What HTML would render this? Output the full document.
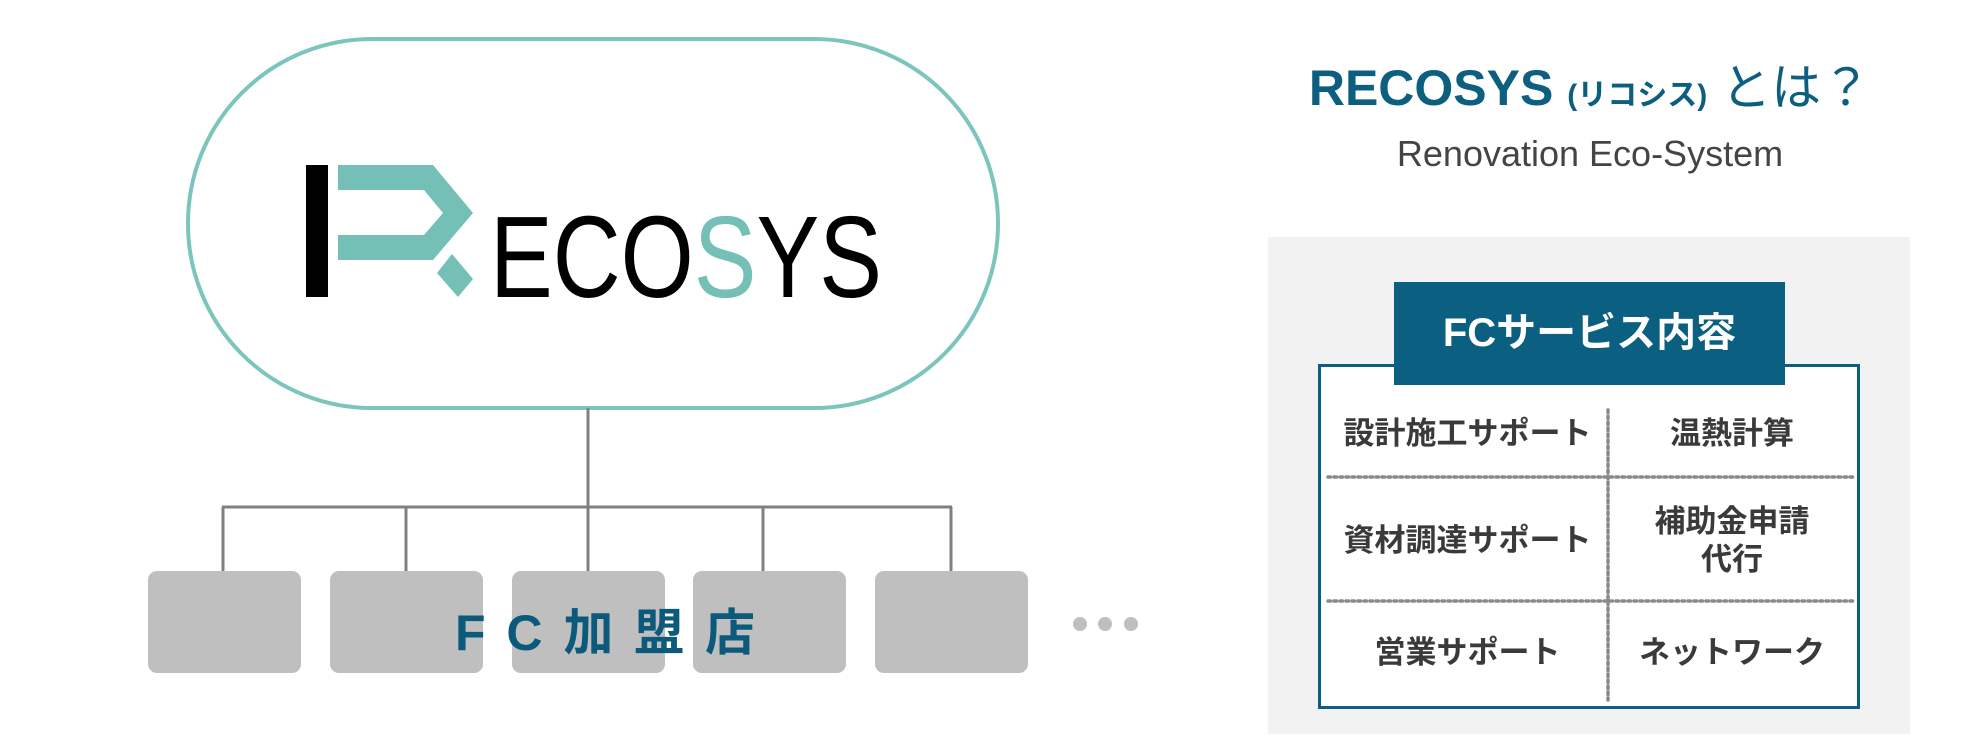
<!DOCTYPE html>
<html><head><meta charset="utf-8"><style>
html,body{margin:0;padding:0;background:#fff;}
body{width:1984px;height:756px;position:relative;overflow:hidden;font-family:"Liberation Sans","Noto Sans CJK JP",sans-serif;}
.abs{position:absolute;}
.box{position:absolute;top:571px;width:153px;height:102px;background:#bfbfbf;border-radius:9px;}
.cell{position:absolute;text-align:center;font-weight:bold;font-size:31px;color:#3a3a3a;line-height:38px;}
</style></head><body>
<svg class="abs" style="left:0;top:0" width="1984" height="756">
  <rect x="188" y="39" width="810" height="369" rx="184" ry="184" fill="#fff" stroke="#7cc5bc" stroke-width="4"/>
  <rect x="306" y="165" width="22" height="132" fill="#000"/>
  <polygon points="338,165 433,165 473,213 433,260 338,260 338,235 424,235 443,213 424,190 338,190" fill="#74bfb6"/>
  <polygon points="452,254 473,279 458,297 437,273" fill="#74bfb6"/>
  <text x="490" y="297" font-family="Liberation Sans,sans-serif" font-size="116" textLength="392" lengthAdjust="spacingAndGlyphs" fill="#000">ECO<tspan fill="#74bfb6">S</tspan>YS</text>
  <g stroke="#808080" stroke-width="3" fill="none">
    <line x1="588" y1="408" x2="588" y2="571"/>
    <line x1="222" y1="507" x2="952" y2="507"/>
    <line x1="223" y1="507" x2="223" y2="571"/>
    <line x1="406" y1="507" x2="406" y2="571"/>
    <line x1="763" y1="507" x2="763" y2="571"/>
    <line x1="951" y1="507" x2="951" y2="571"/>
  </g>
  <circle cx="1080" cy="624" r="7" fill="#bfbfbf"/>
  <circle cx="1105" cy="624" r="7" fill="#bfbfbf"/>
  <circle cx="1131" cy="624" r="7" fill="#bfbfbf"/>
</svg>
<div class="box" style="left:148px"></div>
<div class="box" style="left:330px"></div>
<div class="box" style="left:512px"></div>
<div class="box" style="left:693px"></div>
<div class="box" style="left:875px"></div>
<svg class="abs" style="left:0;top:0" width="1984" height="756">
  <text x="605" y="650" text-anchor="middle" font-family="Liberation Sans,'Noto Sans CJK JP',sans-serif" font-weight="bold" font-size="50" fill="#0b5a7c" textLength="300" lengthAdjust="spacing">F C 加 盟 店</text>
</svg>

<div class="abs" style="left:1200px;width:780px;top:58px;text-align:center;font-weight:bold;font-size:50px;color:#0d5f7f;line-height:60px;white-space:nowrap;">RECOSYS <span style="font-size:30px">(リコシス)</span> <span style="font-weight:normal">とは？</span></div>
<div class="abs" style="left:1200px;width:780px;top:133px;text-align:center;font-size:36px;color:#444;line-height:42px;">Renovation Eco-System</div>

<div class="abs" style="left:1268px;top:237px;width:642px;height:497px;background:#f2f2f2;"></div>
<div class="abs" style="left:1318px;top:364px;width:536px;height:339px;background:#fff;border:3px solid #0b5f80;"></div>
<div class="abs" style="left:1394px;top:282px;width:391px;height:103px;background:#0b5f80;color:#fff;font-weight:bold;font-size:40px;line-height:103px;text-align:center;">FCサービス内容</div>
<svg class="abs" style="left:0;top:0" width="1984" height="756">
  <g stroke="#8a8a8a" stroke-width="3.5" stroke-dasharray="2.5 3.5" stroke-linecap="round">
    <line x1="1608" y1="410" x2="1608" y2="700"/>
    <line x1="1328" y1="477" x2="1853" y2="477"/>
    <line x1="1328" y1="601" x2="1853" y2="601"/>
  </g>
</svg>
<div class="cell" style="left:1330px;width:275px;top:415px">設計施工サポート</div>
<div class="cell" style="left:1612px;width:240px;top:415px">温熱計算</div>
<div class="cell" style="left:1330px;width:275px;top:522px">資材調達サポート</div>
<div class="cell" style="left:1612px;width:240px;top:503px">補助金申請<br>代行</div>
<div class="cell" style="left:1330px;width:275px;top:634px">営業サポート</div>
<div class="cell" style="left:1612px;width:240px;top:634px">ネットワーク</div>
</body></html>
